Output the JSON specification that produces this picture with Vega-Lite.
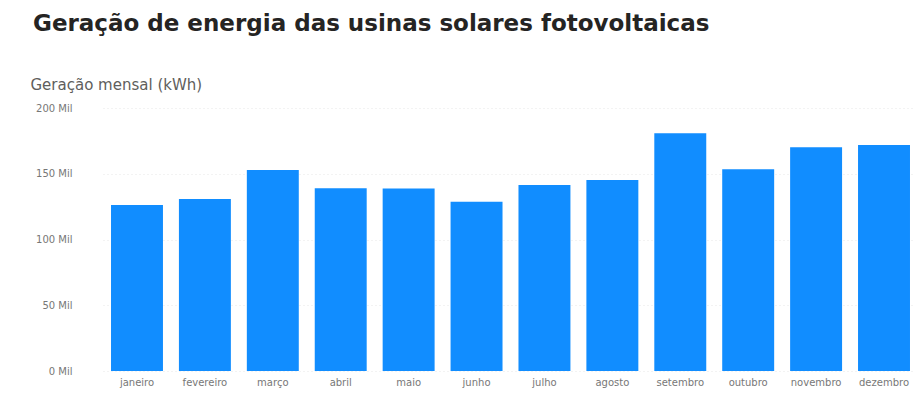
{
  "$schema": "https://vega.github.io/schema/vega-lite/v6.json",
  "autosize": "none",
  "width": 815,
  "height": 263,
  "padding": {"left": 103, "top": 108, "right": 0, "bottom": 23},
  "background": "white",
  "config": {"view": {"stroke": null}, "font": "DejaVu Sans"},
  "title": {
    "text": "Geração de energia das usinas solares fotovoltaicas",
    "anchor": "start",
    "frame": "group",
    "dx": -70,
    "fontSize": 23,
    "fontWeight": "bold",
    "font": "DejaVu Sans",
    "color": "#252423",
    "offset": 41
  },
  "data": {
    "values": [
      {"mes": "janeiro", "geracao": 126200},
      {"mes": "fevereiro", "geracao": 130800},
      {"mes": "março", "geracao": 152900},
      {"mes": "abril", "geracao": 138900},
      {"mes": "maio", "geracao": 138700},
      {"mes": "junho", "geracao": 128700},
      {"mes": "julho", "geracao": 141400},
      {"mes": "agosto", "geracao": 145200},
      {"mes": "setembro", "geracao": 180800},
      {"mes": "outubro", "geracao": 153400},
      {"mes": "novembro", "geracao": 170100},
      {"mes": "dezembro", "geracao": 171900}
    ]
  },
  "mark": {"type": "bar", "color": "#118DFF"},
  "encoding": {
    "x": {
      "field": "mes",
      "type": "nominal",
      "sort": null,
      "scale": {"paddingInner": 0.235, "paddingOuter": 0.118},
      "axis": {
        "title": null,
        "labelAngle": 0,
        "labelFontSize": 10,
        "labelColor": "#777777",
        "labelLimit": 58,
        "labelPadding": 6,
        "ticks": false,
        "domain": false
      }
    },
    "y": {
      "field": "geracao",
      "type": "quantitative",
      "scale": {"domain": [0, 200000]},
      "axis": {
        "values": [0, 50000, 100000, 150000, 200000],
        "labelExpr": "format(datum.value/1000, 'd') + ' Mil'",
        "labelFontSize": 10,
        "labelColor": "#777777",
        "labelPadding": 31,
        "ticks": false,
        "domain": false,
        "grid": true,
        "gridColor": "#e6e6e6",
        "gridDash": [1, 3],
        "title": "Geração mensal (kWh)",
        "titleAngle": 0,
        "titleAlign": "left",
        "titleBaseline": "alphabetic",
        "titleX": -73,
        "titleY": -19,
        "titleFontSize": 15,
        "titleFontWeight": "normal",
        "titleColor": "#605E5C"
      }
    }
  }
}
